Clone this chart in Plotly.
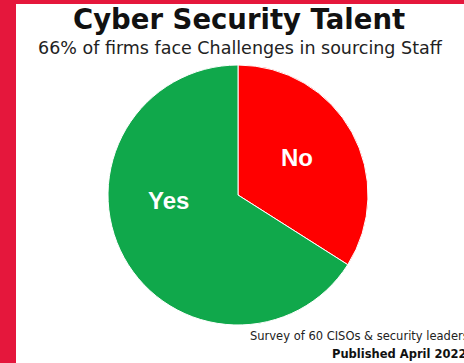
import plotly.graph_objects as go

labels = ["No", "Yes"]
values = [34, 66]
colors = ["#FF0000", "#10A84B"]

W, H = 464, 363
title = "Cyber Security Talent"
subtitle = "66% of firms face Challenges in sourcing Staff"
note1 = "Survey of 60 CISOs & security leaders"
note2 = "Published April 2022"

# label anchor positions (pixels) for the slice names
label_pos = {"No": (297, 158), "Yes": (168, 200)}

def px(x):
    return x / W

def py(y):
    return 1 - y / H

cx, cy, r = 238, 195, 130

fig = go.Figure(go.Pie(
    labels=labels, values=values, sort=False, direction="clockwise", rotation=0,
    marker=dict(colors=colors, line=dict(color="white", width=1)),
    textinfo="none", hoverinfo="label+percent", showlegend=False,
    domain=dict(x=[px(cx - r), px(cx + r)], y=[py(cy + r), py(cy - r)]),
))

annotations = [
    dict(text="<b>" + title + "</b>", x=px(239), y=py(19), xref="paper", yref="paper",
         showarrow=False, xanchor="center", yanchor="middle",
         font=dict(family="DejaVu Sans", size=27.5, color="#111")),
    dict(text=subtitle, x=px(240), y=py(48), xref="paper", yref="paper",
         showarrow=False, xanchor="center", yanchor="middle",
         font=dict(family="DejaVu Sans", size=17.5, color="#222")),
    dict(text=note1, x=px(248), y=py(336), xref="paper", yref="paper",
         showarrow=False, xanchor="left", yanchor="middle",
         font=dict(family="DejaVu Sans", size=11.5, color="#222")),
    dict(text="<b>" + note2 + "</b>", x=px(330), y=py(354), xref="paper", yref="paper",
         showarrow=False, xanchor="left", yanchor="middle",
         font=dict(family="DejaVu Sans", size=11.5, color="#111")),
]
for lab in labels:
    lx, ly = label_pos[lab]
    annotations.append(dict(text="<b>" + lab + "</b>", x=px(lx), y=py(ly), xref="paper", yref="paper",
                            showarrow=False, xanchor="center", yanchor="middle",
                            font=dict(family="Liberation Sans, Arial", size=24, color="white")))

fig.update_layout(
    width=W, height=H, margin=dict(l=0, r=0, t=0, b=0),
    paper_bgcolor="#E5173C", plot_bgcolor="white",
    shapes=[dict(type="rect", xref="paper", yref="paper", x0=px(16), x1=1.05, y0=-0.05, y1=py(4),
                 fillcolor="white", line=dict(width=0), layer="below")],
    annotations=annotations,
)

fig.write_html("out.html")
